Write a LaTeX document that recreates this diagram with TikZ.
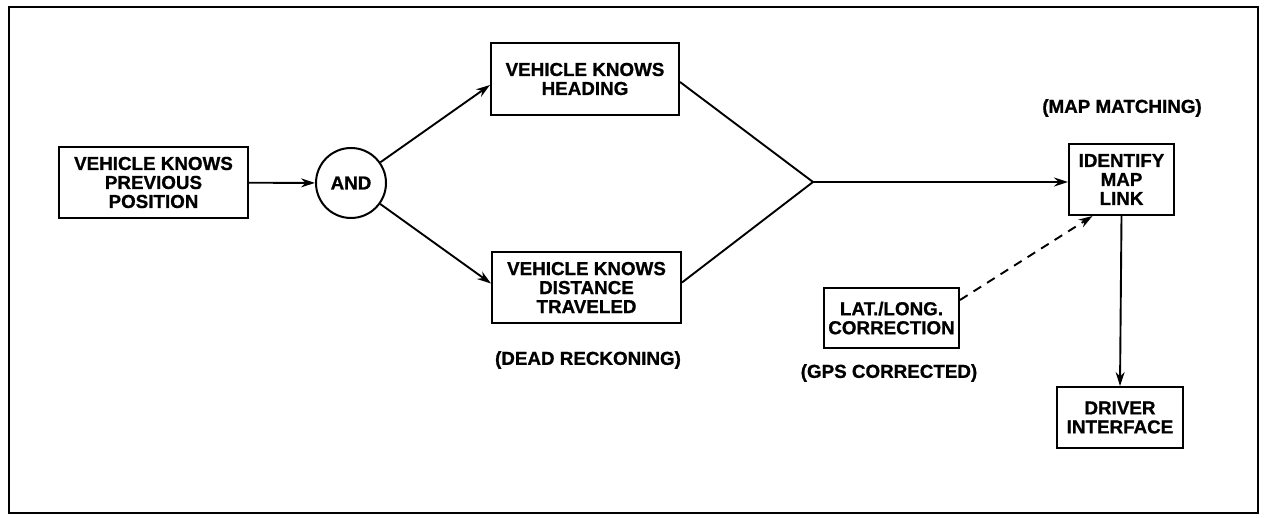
\documentclass[tikz,border=0pt]{standalone}
\usepackage{fontspec}
\setmainfont{Liberation Sans}
\newfontfamily\diafont{Liberation Sans}[FakeBold=0.9]
\usetikzlibrary{arrows.meta}
\begin{document}
\begin{tikzpicture}[x=1pt,y=-1pt,
  every node/.style={font=\diafont\bfseries\fontsize{18.8}{19}\selectfont, align=center, inner sep=0pt},
  blk/.style={draw, line width=2pt, rectangle},
  conn/.style={line width=1.9pt},
  arr/.style={conn, -{Stealth[length=14pt,width=9pt]}},
  lbl/.style={}]
\useasboundingbox (0,0) rectangle (1268,518);
\draw[line width=2.6pt] (9,7) rectangle (1258,513);

\node[blk, minimum width=189, minimum height=71] (prev) at (153.5,182.5) {VEHICLE KNOWS\\PREVIOUS\\POSITION};
\node[draw, circle, line width=2pt, minimum size=70] (and) at (351,183) {AND};
\node[blk, minimum width=188, minimum height=72] (head) at (585,79) {VEHICLE KNOWS\\HEADING};
\node[blk, minimum width=189, minimum height=71] (dist) at (586.5,287.5) {VEHICLE KNOWS\\DISTANCE\\TRAVELED};
\coordinate (j) at (813,182);
\node[blk, minimum width=105, minimum height=71] (ident) at (1121.5,179.5) {IDENTIFY\\MAP\\LINK};
\node[blk, minimum width=135, minimum height=60] (lat) at (891.5,318) {LAT./LONG.\\CORRECTION};
\node[blk, minimum width=126, minimum height=61] (drv) at (1120,417.5) {DRIVER\\INTERFACE};

\node[lbl] (mm) at (1122,108) {(MAP MATCHING)};
\node[lbl] (dr) at (588,360) {(DEAD RECKONING)};
\node[lbl] (gps) at (889,373) {(GPS CORRECTED)};

\draw[arr] (prev) -- (and);
\draw[arr] (and) -- ([yshift=-6pt]head.west);
\draw[arr] (and) -- ([yshift=4pt]dist.west);
\draw[conn] ([yshift=-3pt]head.east) -- (j);
\draw[conn] ([yshift=5pt]dist.east) -- (j);
\draw[arr] (j) -- (j -| ident.west);
\draw[arr, dashed, dash pattern=on 9pt off 7pt] ([yshift=18pt]lat.east) -- ([xshift=-29pt]ident.south);
\draw[arr] (ident.south) -- (drv.north);
\end{tikzpicture}
\end{document}
